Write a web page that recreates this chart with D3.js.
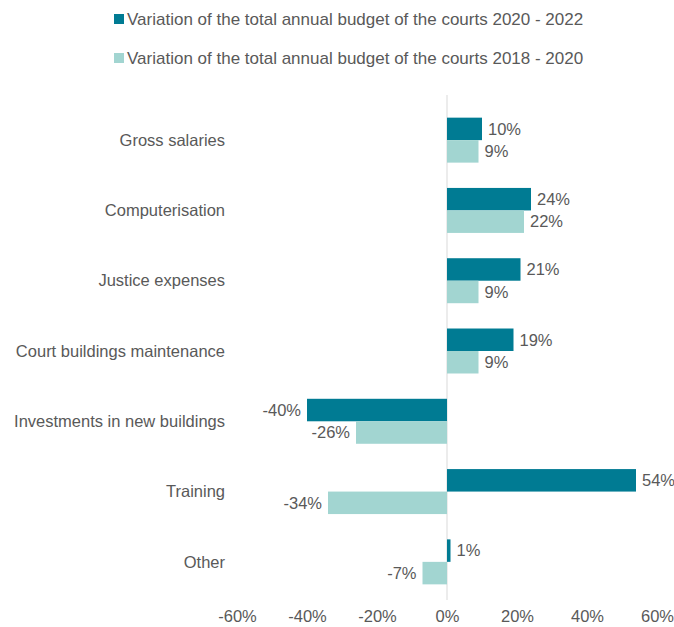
<!DOCTYPE html>
<html><head><meta charset="utf-8">
<script src="https://cdn.jsdelivr.net/npm/d3@7/dist/d3.min.js"></script>
<style>body{margin:0;background:#fff;} text{font-family:"Liberation Sans",Arial,sans-serif;fill:#595959;}</style>
</head><body><svg id="c" width="674" height="627"></svg>
<script>
const categories = ["Gross salaries","Computerisation","Justice expenses","Court buildings maintenance","Investments in new buildings","Training","Other"];
const series2022 = [10,24,21,19,-40,54,1];
const series2020 = [9,22,9,9,-26,-34,-7];
const seriesNames = ["Variation of the total annual budget of the courts 2020 - 2022","Variation of the total annual budget of the courts 2018 - 2020"];
const colors = ["#007B93","#A2D5D1"];
const ticks = [-60,-40,-20,0,20,40,60];

const svg = d3.select("#c");
const x = d3.scaleLinear().domain([-60,60]).range([237,657]);
const y = d3.scaleBand().domain(categories).range([105,597]).paddingInner(0.36).paddingOuter(0.18);
const sub = d3.scaleBand().domain([0,1]).range([0,y.bandwidth()]);
const fs = 16.5;

// zero line
svg.append("line").attr("x1",x(0)).attr("x2",x(0)).attr("y1",95).attr("y2",600)
  .attr("stroke","#d9d9d9").attr("stroke-width",1);

const data = [series2022, series2020];
data.forEach((s,si)=>{
  const g = svg.append("g");
  categories.forEach((c,i)=>{
    const v = s[i];
    const y0 = y(c)+sub(si);
    g.append("rect").attr("x",x(Math.min(0,v))).attr("y",y0)
      .attr("width",Math.abs(x(v)-x(0))).attr("height",sub.bandwidth()).attr("fill",colors[si]);
    g.append("text").attr("x", v>=0 ? x(v)+6 : x(v)-6).attr("y",y0+sub.bandwidth()/2)
      .attr("dy","0.35em").attr("text-anchor", v>=0?"start":"end").attr("font-size",fs).text(v+"%");
  });
});

// category labels
svg.append("g").selectAll("text").data(categories).join("text")
  .attr("x",225).attr("y",d=>y(d)+y.bandwidth()/2).attr("dy","0.35em")
  .attr("text-anchor","end").attr("font-size",fs).text(d=>d);

// x axis
const ax = svg.append("g").attr("transform","translate(0,605)")
  .call(d3.axisBottom(x).tickValues(ticks).tickSize(0).tickPadding(5).tickFormat(d=>d+"%"));
ax.select(".domain").remove();
ax.selectAll("text").attr("font-size",fs).style("font-family","Liberation Sans,Arial,sans-serif").attr("fill","#595959");

// legend
seriesNames.forEach((n,i)=>{
  const ly = 19 + i*39;
  svg.append("rect").attr("x",114).attr("y",ly-5).attr("width",10).attr("height",10).attr("fill",colors[i]);
  svg.append("text").attr("x",127).attr("y",ly).attr("dy","0.35em").attr("font-size",17).text(n);
});
</script></body></html>
